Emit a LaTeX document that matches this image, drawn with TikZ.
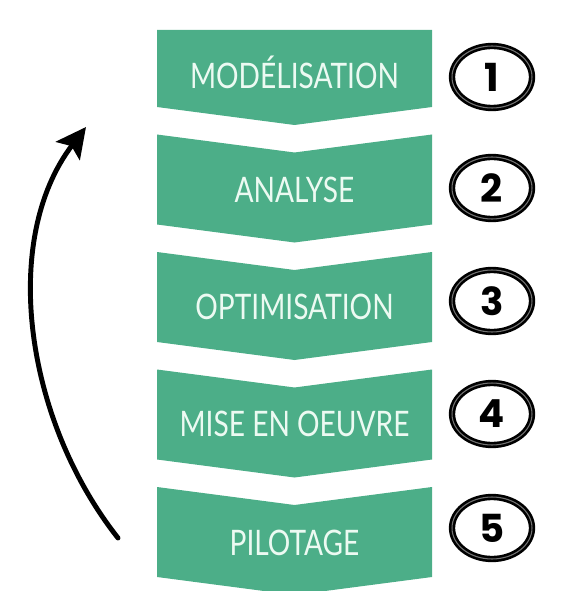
\documentclass[tikz,border=0pt]{standalone}
\usepackage{fontspec}
\usetikzlibrary{arrows.meta, shapes.geometric}
\newfontfamily\labelfont[FakeStretch=0.8]{Lato}
\newfontfamily\numfont{Poppins}
\definecolor{stepgreen}{RGB}{76,174,136}
\definecolor{steptext}{RGB}{236,250,242}

\begin{document}
\begin{tikzpicture}[x=0.02cm, y=-0.02cm,
    stepfill/.style={fill=stepgreen},
    steplabel/.style={text=steptext, font=\labelfont\fontsize{20}{24}\selectfont},
    stepnum/.style={draw, ellipse, line width=1.5pt, double=black!55, double distance=0.6pt,
        minimum width=1.6cm, minimum height=1.24cm, inner sep=0pt,
        font=\numfont\bfseries\fontsize{22}{26}\selectfont}]
    \useasboundingbox (0,0) rectangle (567,591);

    % Modelisation
    \fill[stepfill] (157,30) -- (432,30) -- (432,107) -- (294.5,125) -- (157,107) -- cycle;
    \node (model) [steplabel] at (294.5,72) {MODÉLISATION};
    \node (num1) [stepnum] at (492,77) {1};

    % Analyse
    \fill[stepfill] (157,134.5) -- (294.5,152.5) -- (432,134.5) -- (432,224.5) -- (294.5,242.5) -- (157,224.5) -- cycle;
    \node (analyse) [steplabel] at (294.5,190) {ANALYSE};
    \node (num2) [stepnum] at (492,188) {2};

    % Optimisation
    \fill[stepfill] (157,252) -- (294.5,270) -- (432,252) -- (432,342) -- (294.5,360) -- (157,342) -- cycle;
    \node (optim) [steplabel] at (294.5,307) {OPTIMISATION};
    \node (num3) [stepnum] at (492,301) {3};

    % Mise en oeuvre
    \fill[stepfill] (157,369.5) -- (294.5,387.5) -- (432,369.5) -- (432,459.5) -- (294.5,477.5) -- (157,459.5) -- cycle;
    \node (oeuvre) [steplabel] at (294.5,424) {MISE EN OEUVRE};
    \node (num4) [stepnum] at (492,414) {4};

    % Pilotage
    \fill[stepfill] (157,487) -- (294.5,505) -- (432,487) -- (432,577) -- (294.5,595) -- (157,577) -- cycle;
    \node (pilot) [steplabel] at (294.5,543) {PILOTAGE};
    \node (num5) [stepnum] at (492,528) {5};

    % loop back to the first step
    \coordinate (loopstart) at (118,538);
    \coordinate (loopend) at (86,127);
    \draw[line width=2.8pt, line cap=round, -{Stealth[length=0.6cm, width=0.6cm, inset=0.12cm]}]
        (loopstart) .. controls (25,420) and (0,240) .. (loopend);
\end{tikzpicture}
\end{document}
